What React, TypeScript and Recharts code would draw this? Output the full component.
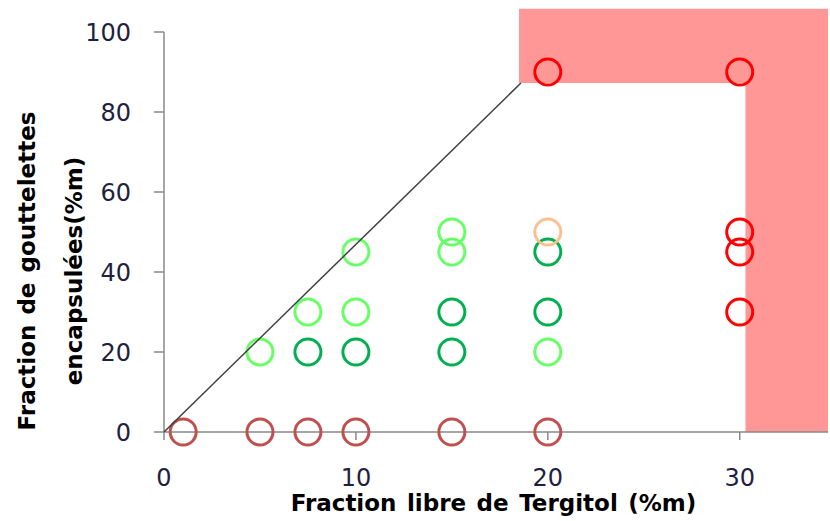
import React from "react";
import {
  ScatterChart,
  Scatter,
  XAxis,
  YAxis,
  ReferenceArea,
  Label,
} from "recharts";

// Data
const brownPoints = [
  { x: 1, y: 0 },
  { x: 5, y: 0 },
  { x: 7.5, y: 0 },
  { x: 10, y: 0 },
  { x: 15, y: 0 },
  { x: 20, y: 0 },
];
const lightGreenPoints = [
  { x: 5, y: 20 },
  { x: 7.5, y: 30 },
  { x: 10, y: 45 },
  { x: 10, y: 30 },
  { x: 15, y: 50 },
  { x: 15, y: 45 },
  { x: 20, y: 20 },
];
const darkGreenPoints = [
  { x: 7.5, y: 20 },
  { x: 10, y: 20 },
  { x: 15, y: 30 },
  { x: 15, y: 20 },
  { x: 20, y: 45 },
  { x: 20, y: 30 },
];
const orangePoints = [{ x: 20, y: 50 }];
const redPoints = [
  { x: 20, y: 90 },
  { x: 30, y: 90 },
  { x: 30, y: 50 },
  { x: 30, y: 45 },
  { x: 30, y: 30 },
];
const diagonalLine = [
  { x: 0, y: 0 },
  { x: 18.6, y: 87.25 },
];
// Shaded zones [x1, x2, y1, y2]
const topZone = [18.5, 34.6, 87.25, 105.8];
const rightZone = [30.3, 34.6, 0, 87.25];

const xTicks = [0, 10, 20, 30];
const yTicks = [0, 20, 40, 60, 80, 100];
const xDomain = [0, 34.6];
const yDomain = [0, 100];

const xTitle = "Fraction libre de Tergitol (%m)";
const yTitleLine1 = "Fraction de gouttelettes";
const yTitleLine2 = "encapsulées(%m)";

const FONT = "'DejaVu Sans', Verdana, sans-serif";
const AXIS_COLOR = "#888888";
const TICK_COLOR = "#1f1f3f";
const PINK = "#ff9797";

const ring = (color: string) => (props: any) => (
  <circle
    cx={props.cx}
    cy={props.cy}
    r={13}
    fill="none"
    stroke={color}
    strokeWidth={3}
  />
);

export default function App() {
  return (
    <div style={{ position: "absolute", left: 0, top: 0, width: 830, height: 521 }}>
      <ScatterChart
        width={830}
        height={521}
        margin={{ top: 32, right: 2, left: 8, bottom: 0 }}
        style={{ fontFamily: FONT }}
      >
        <ReferenceArea
          x1={topZone[0]}
          x2={topZone[1]}
          y1={topZone[2]}
          y2={topZone[3]}
          fill={PINK}
          fillOpacity={1}
          stroke="none"
          ifOverflow="visible"
        />
        <ReferenceArea
          x1={rightZone[0]}
          x2={rightZone[1]}
          y1={rightZone[2]}
          y2={rightZone[3]}
          fill={PINK}
          fillOpacity={1}
          stroke="none"
          ifOverflow="visible"
        />
        <XAxis
          type="number"
          dataKey="x"
          domain={xDomain}
          ticks={xTicks}
          interval={0}
          height={89}
          tickSize={8}
          tickMargin={29}
          axisLine={{ stroke: AXIS_COLOR, strokeWidth: 1.5 }}
          tickLine={{ stroke: AXIS_COLOR, strokeWidth: 1.5 }}
          tick={{ fill: TICK_COLOR, fontSize: 24, fontFamily: FONT }}
        >
          <Label
            content={() => (
              <text
                x={493.5}
                y={511}
                textAnchor="middle"
                fontFamily={FONT}
                fontWeight="bold"
                fontSize={23}
                wordSpacing={2.5}
                fill="#000"
              >
                {xTitle}
              </text>
            )}
          />
        </XAxis>
        <YAxis
          type="number"
          dataKey="y"
          domain={yDomain}
          ticks={yTicks}
          interval={0}
          width={156}
          tickSize={10}
          tickMargin={23}
          axisLine={{ stroke: AXIS_COLOR, strokeWidth: 1.5 }}
          tickLine={{ stroke: AXIS_COLOR, strokeWidth: 1.5 }}
          tick={{ fill: TICK_COLOR, fontSize: 24, fontFamily: FONT }}
        >
          <Label
            content={() => (
              <g>
                <text
                  x={35}
                  y={271}
                  transform="rotate(-90, 35, 271)"
                  textAnchor="middle"
                  fontFamily={FONT}
                  fontWeight="bold"
                  fontSize={23}
                  wordSpacing={2}
                  fill="#000"
                >
                  {yTitleLine1}
                </text>
                <text
                  x={82}
                  y={271}
                  transform="rotate(-90, 82, 271)"
                  textAnchor="middle"
                  fontFamily={FONT}
                  fontWeight="bold"
                  fontSize={23}
                  fill="#000"
                >
                  {yTitleLine2}
                </text>
              </g>
            )}
          />
        </YAxis>
        <Scatter data={brownPoints} shape={ring("#c0504d")} isAnimationActive={false} />
        <Scatter data={lightGreenPoints} shape={ring("#66ff66")} isAnimationActive={false} />
        <Scatter data={darkGreenPoints} shape={ring("#00b050")} isAnimationActive={false} />
        <Scatter data={orangePoints} shape={ring("#fac090")} isAnimationActive={false} />
        <Scatter data={redPoints} shape={ring("#ff0000")} isAnimationActive={false} />
        <Scatter
          data={diagonalLine}
          line={{ stroke: "#404040", strokeWidth: 1.5 }}
          shape={() => null}
          isAnimationActive={false}
        />
      </ScatterChart>
    </div>
  );
}
